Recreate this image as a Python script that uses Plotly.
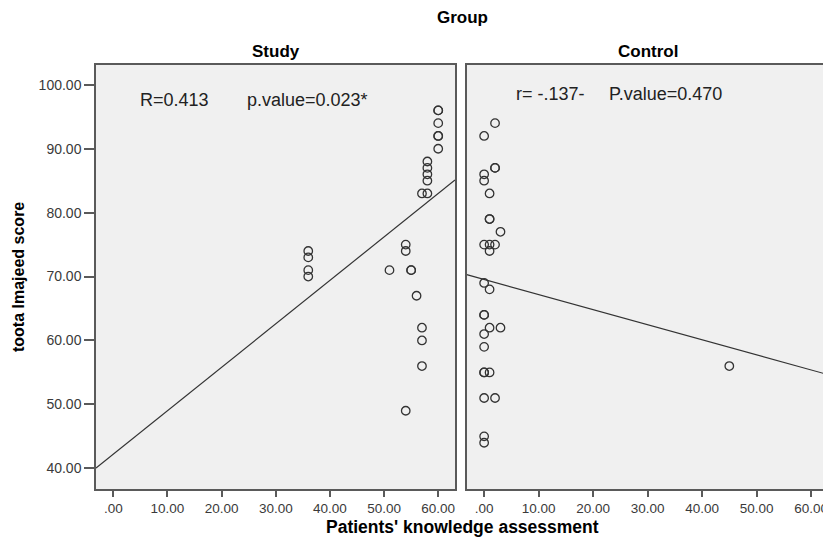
import plotly.graph_objects as go
import numpy as np

# ---- data ----
study_x = [60, 60, 60, 60, 60, 60, 58, 58, 58, 58, 57, 58, 54, 54, 51, 55, 55, 56, 57, 57, 57, 54, 36, 36, 36, 36]
study_y = [96, 96, 94, 92, 92, 90, 88, 87, 86, 85, 83, 83, 75, 74, 71, 71, 71, 67, 62, 60, 56, 49, 74, 73, 71, 70]

control_x = [2, 0, 2, 2, 0, 0, 1, 1, 1, 3, 0, 1, 2, 1, 0, 1, 0, 0, 1, 3, 0, 0, 0, 0, 1, 0, 2, 0, 0, 45]
control_y = [94, 92, 87, 87, 86, 85, 83, 79, 79, 77, 75, 75, 75, 74, 69, 68, 64, 64, 62, 62, 61, 59, 55, 55, 55, 51, 51, 45, 44, 56]

# fitted line (intercept, slope) as drawn in the reference
study_fit = [42.2, 0.68]
control_fit = [69.55, -0.236]

x_tickvals = [0, 10, 20, 30, 40, 50, 60]
x_ticktext = [".00", "10.00", "20.00", "30.00", "40.00", "50.00", "60.00"]
y_tickvals = [40, 50, 60, 70, 80, 90, 100]
y_ticktext = ["40.00", "50.00", "60.00", "70.00", "80.00", "90.00", "100.00"]

panel_titles = ["Study", "Control"]
stat_texts = [["R=0.413", "p.value=0.023*"], ["r= -.137-", "P.value=0.470"]]

x1_range = [-3.2, 63.1]
x2_range = [-3.2, 63.3]
y_range = [36.76, 103.1]

FONT = "Liberation Sans, Arial, sans-serif"
LINE_C = "#5a5a5a"
MARK_C = "#333333"

# page body has an 8px default margin: the figure is drawn from (8, 8)
PAGE_OFF = 8
PLOT_L, PLOT_R, PLOT_T, PLOT_B = 96, 829, 65, 489   # plot area in page pixels
PW, PH = PLOT_R - PLOT_L, PLOT_B - PLOT_T

def px_x(x):
    return (x - PLOT_L) / PW

def px_y(y):
    return (PLOT_B - y) / PH

fig = go.Figure()

marker = dict(symbol="circle-open", size=8.5, color=MARK_C, line=dict(width=1.3, color=MARK_C))

fig.add_trace(go.Scatter(x=study_x, y=study_y, mode="markers", marker=marker,
                         xaxis="x", yaxis="y", showlegend=False, hoverinfo="skip"))
fx1 = np.array(x1_range)
fig.add_trace(go.Scatter(x=fx1, y=study_fit[0] + study_fit[1] * fx1, mode="lines",
                         line=dict(color="#333333", width=1.2),
                         xaxis="x", yaxis="y", showlegend=False, hoverinfo="skip"))

fig.add_trace(go.Scatter(x=control_x, y=control_y, mode="markers", marker=marker,
                         xaxis="x2", yaxis="y2", showlegend=False, hoverinfo="skip"))
fx2 = np.array(x2_range)
fig.add_trace(go.Scatter(x=fx2, y=control_fit[0] + control_fit[1] * fx2, mode="lines",
                         line=dict(color="#333333", width=1.2),
                         xaxis="x2", yaxis="y2", showlegend=False, hoverinfo="skip"))

common_x = dict(tickmode="array", tickvals=x_tickvals, ticktext=x_ticktext,
                ticks="outside", ticklen=6, tickwidth=1.5, tickcolor=LINE_C,
                showline=True, mirror=True, linecolor=LINE_C, linewidth=1.5,
                showgrid=False, zeroline=False, automargin=False,
                tickfont=dict(family=FONT, size=13.5, color="#3a3a3a"))

fig.update_layout(
    width=831 - PAGE_OFF, height=542 - PAGE_OFF,
    margin=dict(l=PLOT_L - PAGE_OFF, r=831 - PLOT_R, t=PLOT_T - PAGE_OFF, b=542 - PLOT_B, pad=0),
    paper_bgcolor="white",
    plot_bgcolor="#F0F0F0",
    font=dict(family=FONT, color="black"),
    xaxis=dict(domain=[0, px_x(455)], range=x1_range, anchor="y", **common_x),
    xaxis2=dict(domain=[px_x(466.7), 1], range=x2_range, anchor="y2", **common_x),
    yaxis=dict(domain=[0, 1], range=y_range, anchor="x",
               tickmode="array", tickvals=y_tickvals, ticktext=y_ticktext,
               ticks="outside", ticklen=10, tickwidth=1.5, tickcolor=LINE_C,
               showline=True, mirror=True, linecolor=LINE_C, linewidth=1.5,
               showgrid=False, zeroline=False, automargin=False,
               tickfont=dict(family=FONT, size=14, color="#3a3a3a")),
    yaxis2=dict(domain=[0, 1], range=y_range, anchor="x2", matches="y",
                showticklabels=False, ticks="",
                showline=True, mirror=True, linecolor=LINE_C, linewidth=1.5,
                showgrid=False, zeroline=False, automargin=False),
)

annotations = []
# Group header and panel titles
annotations.append(dict(text="<b>Group</b>", xref="paper", yref="paper", x=px_x(462), y=px_y(18),
                        xanchor="center", yanchor="middle", showarrow=False,
                        font=dict(family=FONT, size=17, color="black")))
for t, cx in zip(panel_titles, [275.5, 647.5]):
    annotations.append(dict(text=f"<b>{t}</b>", xref="paper", yref="paper", x=px_x(cx), y=px_y(52),
                            xanchor="center", yanchor="middle", showarrow=False,
                            font=dict(family=FONT, size=17, color="black")))
# axis titles
annotations.append(dict(text="<b>Patients' knowledge assessment</b>", xref="paper", yref="paper",
                        x=px_x(462), y=px_y(527), xanchor="center", yanchor="middle",
                        showarrow=False, font=dict(family=FONT, size=17.5, color="black")))
annotations.append(dict(text="<b>toota lmajeed score</b>", xref="paper", yref="paper",
                        x=px_x(18), y=px_y(277), xanchor="center", yanchor="middle",
                        textangle=-90, showarrow=False,
                        font=dict(family=FONT, size=16, color="black")))
# statistics text
annotations.append(dict(text=stat_texts[0][0], xref="x", yref="y", x=4.6, y=97.65,
                        xanchor="left", yanchor="middle", showarrow=False,
                        font=dict(family=FONT, size=18, color="#222222")))
annotations.append(dict(text=stat_texts[0][1], xref="x", yref="y", x=24.4, y=97.65,
                        xanchor="left", yanchor="middle", showarrow=False,
                        font=dict(family=FONT, size=18, color="#222222")))
annotations.append(dict(text=stat_texts[1][0], xref="x2", yref="y2", x=5.5, y=98.6,
                        xanchor="left", yanchor="middle", showarrow=False,
                        font=dict(family=FONT, size=18, color="#222222")))
annotations.append(dict(text=stat_texts[1][1], xref="x2", yref="y2", x=22.5, y=98.6,
                        xanchor="left", yanchor="middle", showarrow=False,
                        font=dict(family=FONT, size=18, color="#222222")))
fig.update_layout(annotations=annotations)

fig.write_html("out.html")
